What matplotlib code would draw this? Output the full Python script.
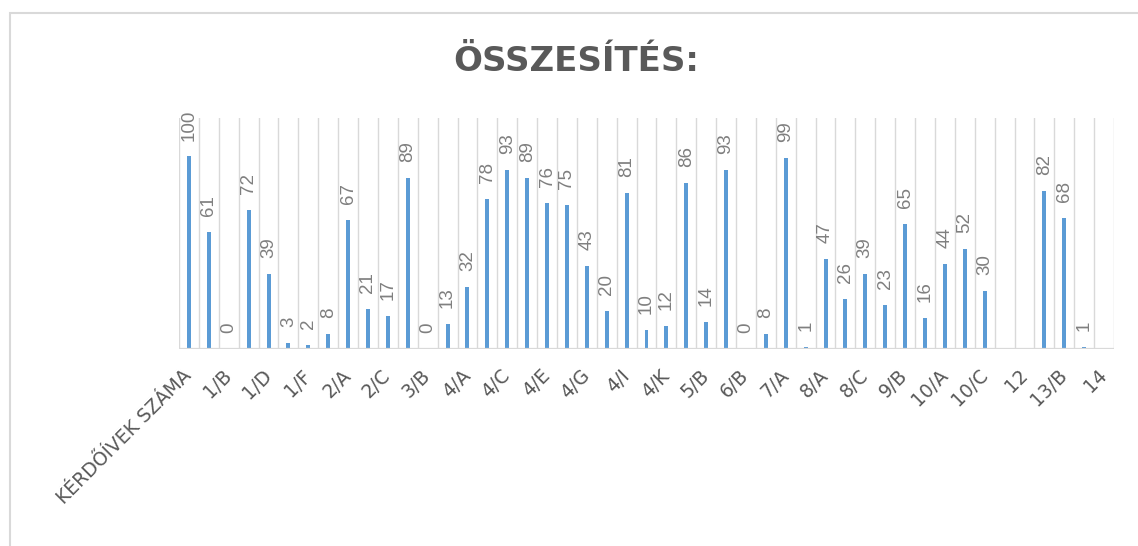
#Összesítés - kérdőívek válaszai kategóriánként
import numpy as np
import matplotlib
matplotlib.use("Agg")
from matplotlib import pyplot as plt
from matplotlib.patches import Rectangle

# kategóriák (csak minden második felirat látszik)
kategoriak = ["KÉRDŐÍVEK SZÁMA", "1/A", "1/B", "1/C", "1/D", "1/E", "1/F", "1/G",
              "2/A", "2/B", "2/C", "3/A", "3/B", "3/C", "4/A", "4/B", "4/C", "4/D",
              "4/E", "4/F", "4/G", "4/H", "4/I", "4/J", "4/K", "5/A", "5/B", "6/A",
              "6/B", "6/C", "7/A", "7/B", "8/A", "8/B", "8/C", "9/A", "9/B", "9/C",
              "10/A", "10/B", "10/C", "11", "12", "13/A", "13/B", "13/C", "14"]
# None = nincs adat
ertekek = [100, 61, 0, 72, 39, 3, 2, 8,
           67, 21, 17, 89, 0, 13, 32, 78, 93, 89,
           76, 75, 43, 20, 81, 10, 12, 86, 14, 93,
           0, 8, 99, 1, 47, 26, 39, 23, 65, 16,
           44, 52, 30, None, None, 82, 68, 1, None]

KEK = "#5B9BD5"
RACS = "#D9D9D9"

fig = plt.figure(figsize=(11.38, 5.46), dpi=100)
ax = fig.add_axes([179/1138, 1-349/546, (1114-179)/1138, (349-118)/546])

xs = np.arange(len(kategoriak))
van = [i for i, v in enumerate(ertekek) if v is not None]
magas = [ertekek[i] for i in van]
ax.bar(van, magas, width=0.2, color=KEK, zorder=3)

for x, y in zip(van, magas):
    ax.annotate("{:.0f}".format(y), (x, y), textcoords="offset points",
                xytext=(0, 11.5), rotation=90, ha="center", va="bottom",
                color="#7F7F7F", fontsize=13.5, family="Liberation Sans")

ax.set_xlim(-0.5, len(kategoriak) - 0.5)
ax.set_ylim(0, 120)

# függőleges rácsvonalak a kategóriák határán
for g in np.arange(-0.5, len(kategoriak), 1):
    ax.axvline(g, color=RACS, lw=1.0, zorder=1)
ax.axhline(0, color=RACS, lw=1.6, zorder=4)

ax.set_yticks([])
ax.set_xticks(xs)
ax.set_xticklabels([k if i % 2 == 0 else "" for i, k in enumerate(kategoriak)],
                   rotation=45, ha="right", va="center", rotation_mode="anchor",
                   color="#595959", fontsize=13.5, family="DejaVu Sans")
ax.tick_params(axis="x", length=0, pad=17)
for s in ax.spines.values():
    s.set_visible(False)

fig.text(0.5066, 0.888, "ÖSSZESÍTÉS:", ha="center", va="center",
         fontsize=24.5, fontweight="bold", color="#595959", family="DejaVu Sans")

# keret
fig.patches.append(Rectangle((10/1138, -0.01), 1.1, 1 - 13/546 + 0.01,
                             transform=fig.transFigure, fill=False,
                             edgecolor=RACS, lw=1.5))

fig.savefig("out.png", dpi=100)
